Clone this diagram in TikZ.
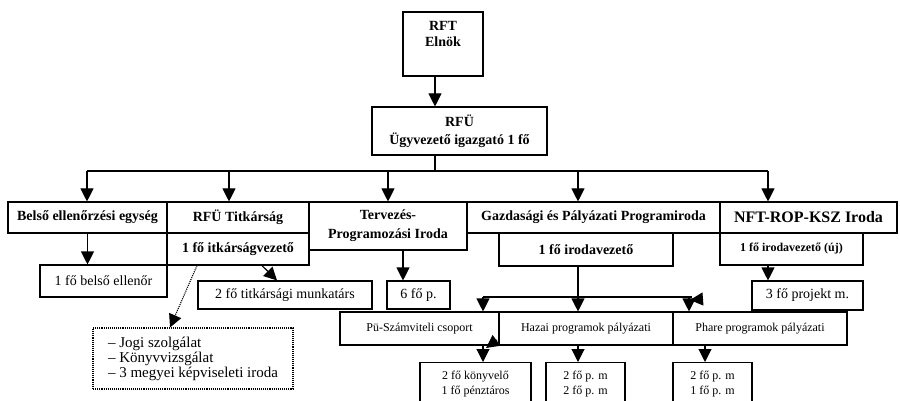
\documentclass[tikz,border=0pt]{standalone}
\usepackage{fontspec}
\setmainfont{Liberation Serif}
\usetikzlibrary{arrows.meta}
\begin{document}
\begin{tikzpicture}[x=1pt,y=-1pt,
 box/.style={draw, line width=1.1pt, inner sep=0pt, align=center},
 bb/.style={box, font=\fontsize{14}{17}\selectfont\bfseries},
 rr/.style={box, font=\fontsize{14}{17}\selectfont},
 sm/.style={box, font=\fontsize{12}{15}\selectfont},
 arr/.style={line width=1.1pt, -{Triangle[width=13pt,length=13pt]}},
 ln/.style={line width=1.1pt}]
\clip (0,0) rectangle (900,401);
\fill[white] (0,0) rectangle (900,401);
% top
\node[bb, minimum width=80, minimum height=64, font=\fontsize{14}{16}\selectfont\bfseries] (rft) at (443,44) {RFT\\Elnök\\\strut};
\node[bb, minimum width=175, minimum height=48, font=\fontsize{14}{18}\selectfont\bfseries] (rfu) at (459.5,131) {RFÜ\\Ügyvezető igazgató 1 fő};
% row 1
\node[bb, minimum width=159, minimum height=31] (bel) at (87.5,217.5) {Belső ellenőrzési egység};
\node[bb, minimum width=142, minimum height=31] (tit) at (238,217.5) {RFÜ Titkárság};
\node[bb, minimum width=158, minimum height=48, font=\fontsize{14}{19}\selectfont\bfseries] (terv) at (388,226) {Tervezés-\\Programozási Iroda};
\node[bb, minimum width=253, minimum height=31] (gaz) at (593.5,217.5) {Gazdasági és Pályázati Programiroda};
\node[bb, font=\fontsize{16}{19}\selectfont\bfseries, minimum width=177, minimum height=31] (nft) at (808.5,217.5) {NFT-ROP-KSZ Iroda};
% row 2
\node[bb, minimum width=142, minimum height=32] (titv) at (238,249) {1 fő itkárságvezető};
\node[bb, minimum width=174, minimum height=33] (gazv) at (586,249.5) {1 fő irodavezető};
\node[bb, font=\fontsize{12}{14}\selectfont\bfseries, minimum width=143, minimum height=32] (nftv) at (791.5,249) {1 fő irodavezető (új)};
% row 3
\node[rr, minimum width=127, minimum height=32] (bell) at (103.5,281) {1 fő belső ellenőr};
\node[rr, minimum width=174, minimum height=28] (titm) at (285,295) {2 fő titkársági munkatárs};
\node[rr, minimum width=63, minimum height=28] (hat) at (418.5,295) {6 fő p.};
\node[rr, minimum width=111, minimum height=29] (proj) at (807.5,295.5) {3 fő projekt m.};
\node[draw, densely dotted, line width=1.1pt, minimum width=200, minimum height=61, align=left, font=\fontsize{15}{15}\selectfont, inner sep=0pt] (dot) at (193,358.5) {– Jogi szolgálat\\– Könyvvizsgálat\\– 3 megyei képviseleti iroda};
% row 4
\node[sm, minimum width=159, minimum height=33] (pu) at (419.5,328.5) {Pü-Számviteli csoport};
\node[sm, minimum width=174, minimum height=33] (haz) at (586,328.5) {Hazai programok pályázati};
\node[sm, minimum width=174, minimum height=33] (pha) at (760,328.5) {Phare programok pályázati};
% row 5
\node[sm, minimum width=111, minimum height=44, anchor=north] (kon) at (475.5,362) {2 fő könyvelő\\1 fő pénztáros};
\node[sm, minimum width=79, minimum height=44, anchor=north] (hz2) at (585.5,362) {2 fő p. m\\2 fő p. m};
\node[sm, minimum width=79, minimum height=44, anchor=north] (ph2) at (712.5,362) {2 fő p. m\\1 fő p. m};
% connectors
\coordinate (hub) at (435,171);
\draw[arr] (rft.south -| hub) -- (rfu.north -| hub);
\draw[ln] (rfu.south -| hub) -- (hub);
\coordinate (c1) at (87,171);
\coordinate (c2) at (229,171);
\coordinate (c3) at (388,171);
\coordinate (c4) at (578,171);
\coordinate (c5) at (768,171);
\draw[ln] (c1) -- (c5);
\draw[arr] (c1) -- (c1 |- bel.north);
\draw[arr] (c2) -- (c2 |- tit.north);
\draw[arr] (c3) -- (c3 |- terv.north);
\draw[arr] (c4) -- (c4 |- gaz.north);
\draw[arr] (c5) -- (c5 |- nft.north);
\draw[arr] (bel.south) -- (bel.south |- bell.north);
\draw[arr] ([xshift=24pt]titv.south) -- ([xshift=-8pt]titm.north);
\draw[arr, densely dotted] ([xshift=-41pt]titv.south) -- ([xshift=-23pt]dot.north);
\draw[arr] ([xshift=15pt]terv.south) -- ([xshift=-15.5pt]hat.north);
\draw[arr] ([xshift=-23.5pt]nftv.south) -- ([xshift=-39.5pt]proj.north);
\draw[arr] ([xshift=-8pt]gazv.south) -- ([xshift=-8pt]haz.north);
\coordinate (gL) at (483,297);
\coordinate (gM) at (689,297);
\coordinate (gR) at (692,297);
\draw[ln] (gL) -- (gR);
\draw[arr] (gL) -- (gL |- pu.north);
\draw[arr] (gM) -- (gM |- pha.north);
\coordinate (xa) at (703,299);
\coordinate (xb) at (690,300);
\draw[arr] (xa) -- (xb);
\draw[arr] ([xshift=7.5pt]kon.north |- pu.south) -- ([xshift=7.5pt]kon.north);
\coordinate (ya) at (497,340);
\coordinate (yb) at (486,348);
\draw[arr] (ya) -- (yb);
\draw[arr] ([xshift=-7.5pt]hz2.north |- haz.south) -- ([xshift=-7.5pt]hz2.north);
\draw[arr] ([xshift=-7.5pt]ph2.north |- pha.south) -- ([xshift=-7.5pt]ph2.north);
\end{tikzpicture}
\end{document}
